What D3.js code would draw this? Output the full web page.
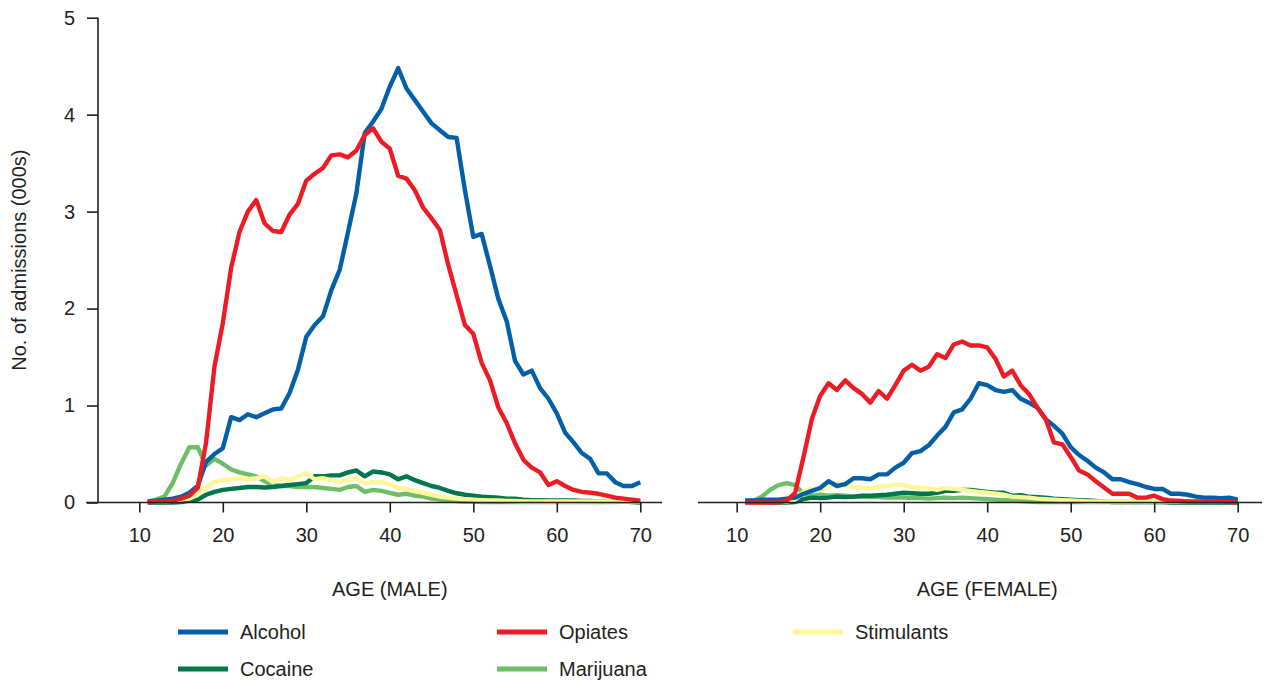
<!DOCTYPE html>
<html>
<head>
<meta charset="utf-8">
<script src="https://cdn.jsdelivr.net/npm/d3@7"></script>
<style>
  body { margin: 0; background: #fff; }
  text { font-family: "Liberation Sans", Arial, sans-serif; fill: #231f20; }
</style>
</head>
<body>
<svg width="1279" height="681"></svg>
<script>
const svg = d3.select('svg');

// age in years (one point per year)
const ages = [11,12,13,14,15,16,17,18,19,20,21,22,23,24,25,26,27,28,29,30,
  31,32,33,34,35,36,37,38,39,40,41,42,43,44,45,46,47,48,49,50,
  51,52,53,54,55,56,57,58,59,60,61,62,63,64,65,66,67,68,69,70];

const xTicks = [10, 20, 30, 40, 50, 60, 70];
const yTicks = [0, 1, 2, 3, 4, 5];

const drugs = ['Alcohol', 'Opiates', 'Stimulants', 'Cocaine', 'Marijuana'];

// male admissions (000s)
const maleAlcohol = [0.01,0.02,0.03,0.04,0.06,0.10,0.17,0.42,0.50,0.56,
  0.88,0.85,0.91,0.88,0.92,0.96,0.97,1.13,1.37,1.71,
  1.83,1.92,2.19,2.40,2.79,3.19,3.81,3.93,4.06,4.29,
  4.48,4.27,4.15,4.03,3.91,3.84,3.77,3.76,3.22,2.74,
  2.77,2.44,2.10,1.87,1.46,1.32,1.36,1.18,1.07,0.92,
  0.72,0.62,0.51,0.45,0.30,0.30,0.21,0.17,0.17,0.21];
const maleOpiates = [0.00,0.01,0.01,0.02,0.04,0.07,0.15,0.62,1.40,1.85,
  2.42,2.79,3.00,3.12,2.88,2.80,2.79,2.97,3.08,3.32,
  3.39,3.45,3.58,3.59,3.56,3.63,3.79,3.86,3.72,3.65,
  3.37,3.34,3.22,3.04,2.93,2.81,2.45,2.14,1.83,1.74,
  1.44,1.26,0.98,0.82,0.61,0.44,0.36,0.31,0.18,0.22,
  0.17,0.13,0.11,0.10,0.09,0.07,0.05,0.04,0.03,0.02];
const maleStimulants = [0.01,0.01,0.01,0.02,0.03,0.04,0.08,0.16,0.21,0.23,
  0.24,0.25,0.24,0.25,0.27,0.21,0.25,0.23,0.27,0.30,
  0.24,0.25,0.23,0.21,0.23,0.25,0.20,0.21,0.21,0.19,
  0.15,0.14,0.12,0.10,0.08,0.06,0.05,0.04,0.035,0.03,
  0.025,0.02,0.02,0.015,0.015,0.01,0.01,0.01,0.01,0.01,
  0.01,0.01,0.01,0.01,0.01,0.01,0.01,0.01,0.01,0.01];
const maleCocaine = [0,0,0,0,0.005,0.02,0.03,0.08,0.11,0.13,
  0.14,0.15,0.16,0.16,0.155,0.16,0.17,0.18,0.19,0.20,
  0.27,0.27,0.28,0.28,0.31,0.33,0.27,0.32,0.31,0.29,
  0.24,0.27,0.23,0.20,0.17,0.15,0.12,0.095,0.08,0.07,
  0.06,0.055,0.05,0.04,0.04,0.03,0.025,0.025,0.02,0.02,
  0.02,0.02,0.015,0.015,0.01,0.01,0.01,0.01,0.005,0];
const maleMarijuana = [0.01,0.03,0.06,0.20,0.40,0.57,0.57,0.38,0.45,0.40,
  0.34,0.31,0.29,0.27,0.22,0.18,0.17,0.17,0.16,0.16,
  0.16,0.15,0.14,0.13,0.16,0.17,0.11,0.13,0.12,0.10,
  0.08,0.09,0.07,0.06,0.04,0.03,0.02,0.015,0.01,0.01,
  0.005,0.005,0.005,0.005,0.005,0.005,0.005,0.005,0.005,0.005,
  0.005,0.005,0.005,0.005,0.005,0.005,0.005,0.01,0.01,0.01];

// female admissions (000s)
const femaleAlcohol = [0.02,0.02,0.03,0.03,0.03,0.04,0.05,0.09,0.12,0.15,
  0.22,0.17,0.19,0.25,0.25,0.24,0.29,0.29,0.36,0.41,
  0.51,0.53,0.59,0.69,0.78,0.93,0.96,1.07,1.23,1.21,
  1.16,1.14,1.16,1.07,1.03,0.98,0.86,0.79,0.71,0.57,
  0.49,0.43,0.36,0.31,0.24,0.24,0.21,0.19,0.16,0.14,
  0.14,0.09,0.09,0.08,0.06,0.05,0.05,0.045,0.05,0.03];
const femaleOpiates = [0,0,0,0,0,0.02,0.10,0.47,0.86,1.10,
  1.23,1.16,1.26,1.18,1.12,1.03,1.15,1.07,1.21,1.36,
  1.42,1.36,1.40,1.53,1.49,1.63,1.66,1.62,1.62,1.60,
  1.48,1.30,1.36,1.21,1.12,0.98,0.86,0.62,0.60,0.47,
  0.33,0.29,0.22,0.155,0.09,0.09,0.09,0.05,0.05,0.07,
  0.035,0.02,0.015,0.01,0.01,0.01,0.01,0.01,0.005,0.005];
const femaleStimulants = [0,0,0,0.005,0.005,0.01,0.03,0.11,0.145,0.13,
  0.16,0.20,0.17,0.16,0.15,0.15,0.16,0.17,0.18,0.18,
  0.16,0.15,0.145,0.13,0.15,0.14,0.13,0.12,0.11,0.10,
  0.09,0.08,0.06,0.055,0.05,0.04,0.035,0.03,0.025,0.02,
  0.015,0.01,0.01,0.01,0.01,0.01,0.01,0.01,0.01,0.01,
  0.01,0.01,0.01,0.01,0.01,0.01,0.01,0.01,0.01,0.01];
const femaleCocaine = [0,0,0,0,0,0,0.005,0.035,0.05,0.045,
  0.05,0.06,0.055,0.06,0.07,0.07,0.075,0.08,0.09,0.10,
  0.095,0.09,0.09,0.10,0.12,0.12,0.13,0.13,0.12,0.11,
  0.10,0.10,0.07,0.075,0.06,0.055,0.05,0.04,0.035,0.03,
  0.025,0.02,0.015,0.01,0.005,0.005,0.005,0.005,0.005,0.005,
  0.005,0,0,0,0,0,0,0,0,0];
const femaleMarijuana = [0.01,0.015,0.06,0.13,0.18,0.20,0.18,0.09,0.07,0.08,
  0.07,0.075,0.07,0.06,0.06,0.055,0.055,0.05,0.05,0.05,
  0.045,0.045,0.04,0.045,0.05,0.045,0.05,0.045,0.04,0.035,
  0.03,0.025,0.02,0.015,0.01,0.005,0.005,0.005,0.005,0.005,
  0.005,0.005,0.005,0.005,0.005,0.005,0.005,0.005,0.005,0.005,
  0.005,0.005,0.005,0.005,0.005,0.005,0.005,0.005,0.005,0.005];

const colors = {
  Alcohol: '#0360a8',
  Opiates: '#ed1c24',
  Stimulants: '#fff799',
  Cocaine: '#00764a',
  Marijuana: '#6cbf67'
};

// draw order: light ones at the back
const drawOrder = ['Marijuana', 'Cocaine', 'Stimulants', 'Alcohol', 'Opiates'];

const panels = [
  { label: 'AGE (MALE)', x0: 139.3, axisLeft: 86, axisRight: 662, showY: true,
    series: { Alcohol: maleAlcohol, Opiates: maleOpiates, Stimulants: maleStimulants,
              Cocaine: maleCocaine, Marijuana: maleMarijuana } },
  { label: 'AGE (FEMALE)', x0: 736.7, axisLeft: 698, axisRight: 1262, showY: false,
    series: { Alcohol: femaleAlcohol, Opiates: femaleOpiates, Stimulants: femaleStimulants,
              Cocaine: femaleCocaine, Marijuana: femaleMarijuana } }
];

const fontSize = 20;
const yScale = d3.scaleLinear().domain([0, 5]).range([502.5, 17.7]);

const render = () => {
  panels.forEach(p => {
    const xScale = d3.scaleLinear().domain([10, 70]).range([p.x0, p.x0 + 501]);
    const g = svg.append('g');

    // lines
    const line = d3.line()
      .x((d, i) => xScale(ages[i]))
      .y(d => yScale(d));

    drawOrder.forEach(name => {
      g.append('path')
        .datum(p.series[name])
        .attr('fill', 'none')
        .attr('stroke', colors[name])
        .attr('stroke-width', 4.4)
        .attr('stroke-linejoin', 'round')
        .attr('d', line);
    });

    // x axis
    const xAxis = d3.axisBottom(xScale)
      .tickValues(xTicks)
      .tickSize(10)
      .tickPadding(15);
    const xAxisG = g.append('g')
      .attr('transform', `translate(0,${yScale(0)})`)
      .call(xAxis);
    xAxisG.select('.domain').remove();
    xAxisG.selectAll('line').attr('stroke', '#231f20').attr('stroke-width', 1.6);
    xAxisG.selectAll('text')
      .attr('font-size', fontSize)
      .attr('font-family', '"Liberation Sans", Arial, sans-serif')
      .attr('fill', '#231f20');

    g.append('line')
      .attr('x1', p.axisLeft).attr('x2', p.axisRight)
      .attr('y1', yScale(0)).attr('y2', yScale(0))
      .attr('stroke', '#231f20')
      .attr('stroke-width', 1.6);

    g.append('text')
      .attr('x', xScale(40))
      .attr('y', 596)
      .attr('text-anchor', 'middle')
      .attr('font-size', fontSize)
      .text(p.label);

    if (p.showY) {
      const yAxis = d3.axisLeft(yScale)
        .tickValues(yTicks)
        .tickFormat(d3.format('d'))
        .tickSize(11)
        .tickPadding(12);
      const yAxisG = g.append('g')
        .attr('transform', 'translate(98,0)')
        .call(yAxis);
      yAxisG.select('.domain').attr('stroke', '#231f20').attr('stroke-width', 1.6)
        .attr('d', `M0,${yScale(5)}V${yScale(0)}`);
      yAxisG.selectAll('line').attr('stroke', '#231f20').attr('stroke-width', 1.6);
      yAxisG.selectAll('text')
        .attr('font-size', fontSize)
        .attr('font-family', '"Liberation Sans", Arial, sans-serif')
        .attr('fill', '#231f20');

      g.append('text')
        .attr('transform', `translate(26,${yScale(2.5)}) rotate(-90)`)
        .attr('text-anchor', 'middle')
        .attr('font-size', fontSize)
        .text('No. of admissions (000s)');
    }
  });

  // legend
  const legendPos = [
    { x: 178, y: 632 }, { x: 497, y: 632 }, { x: 793, y: 632 },
    { x: 178, y: 669 }, { x: 497, y: 669 }
  ];
  const legend = svg.append('g');
  drugs.forEach((name, i) => {
    const pos = legendPos[i];
    legend.append('line')
      .attr('x1', pos.x).attr('x2', pos.x + 50)
      .attr('y1', pos.y).attr('y2', pos.y)
      .attr('stroke', colors[name])
      .attr('stroke-width', 5);
    legend.append('text')
      .attr('x', pos.x + 62)
      .attr('y', pos.y)
      .attr('dy', '0.35em')
      .attr('font-size', fontSize)
      .text(name);
  });
};

render();
</script>
</body>
</html>
